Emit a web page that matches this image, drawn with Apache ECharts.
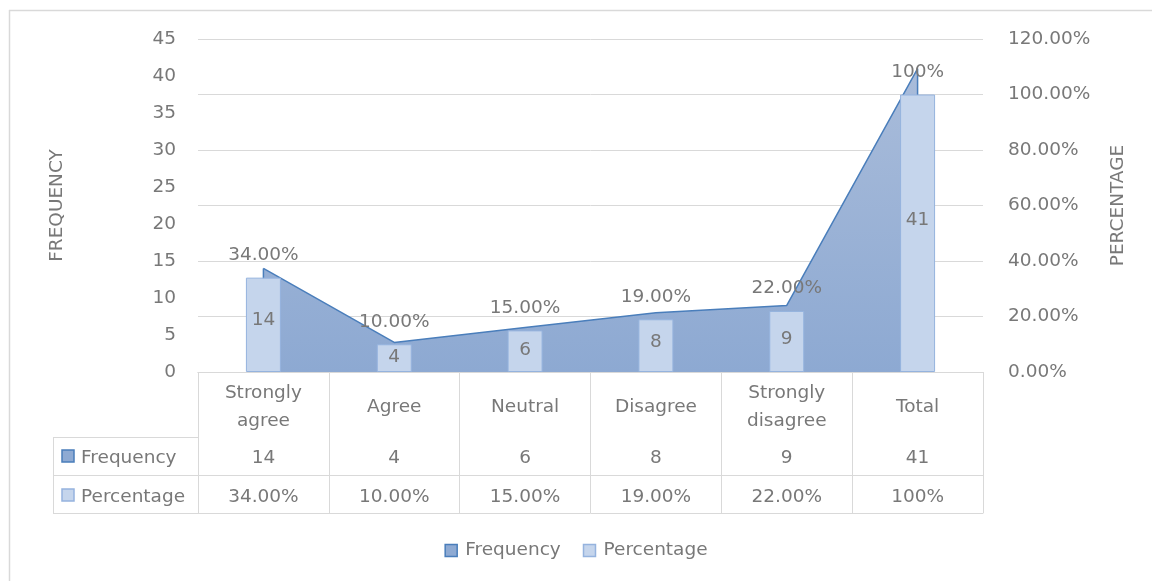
<!DOCTYPE html>
<html>
<head>
<meta charset="utf-8">
<script src="https://cdn.jsdelivr.net/npm/echarts@6/dist/echarts.min.js"></script>
<style>html,body{margin:0;padding:0;background:#fff}#c{width:1152px;height:581px}</style>
</head>
<body>
<div id="c"></div>
<script>
const categories = ['Strongly agree', 'Agree', 'Neutral', 'Disagree', 'Strongly disagree', 'Total'];
const frequency = [14, 4, 6, 8, 9, 41];
const percentage = [34, 10, 15, 19, 22, 100];
const percentageLabels = ['34.00%', '10.00%', '15.00%', '19.00%', '22.00%', '100%'];
const leftTicks = { min: 0, max: 45, interval: 5 };
const rightTicks = { min: 0, max: 120, interval: 20 };

const FS = 18.5;
const TXT = '#787878';
const GRID = '#d9d9d9';
const AREA_LINE = '#4a7ebb';
const AREA_FILL = '#8eaad3';
const BAR_FILL = '#c5d5ec';
const BAR_EDGE = '#95b3de';

const chart = echarts.init(document.getElementById('c'), null, { renderer: 'canvas' });
const txt = { color: TXT, fontFamily: 'DejaVu Sans', fontSize: FS };

const last = categories.length - 1;
function edgeSeries(i) {
  return {
    type: 'line', xAxisIndex: 0, yAxisIndex: 0, symbol: 'none', z: 2, silent: true,
    lineStyle: { color: AREA_LINE, width: 1.5 },
    data: [[categories[i], 0], [categories[i], frequency[i]]]
  };
}

const option = {
  animation: false,
  textStyle: { fontFamily: 'DejaVu Sans' },
  grid: { left: 198, right: 169, top: 39, bottom: 209 },
  legend: {
    bottom: 16, left: 'center', itemWidth: 12, itemHeight: 12, itemGap: 22,
    textStyle: Object.assign({}, txt, { padding: [0, 0, 0, 3] }),
    data: [
      { name: 'Frequency', icon: 'rect', itemStyle: { color: AREA_FILL, borderColor: AREA_LINE, borderWidth: 1.5 } },
      { name: 'Percentage', icon: 'rect', itemStyle: { color: BAR_FILL, borderColor: BAR_EDGE, borderWidth: 1.5 } }
    ]
  },
  xAxis: [
    {
      type: 'category', data: categories, position: 'bottom',
      axisLine: { lineStyle: { color: GRID } },
      axisTick: { show: true, length: 141, lineStyle: { color: GRID } },
      axisLabel: Object.assign({}, txt, {
        margin: 35, verticalAlign: 'middle', lineHeight: 28, interval: 0,
        formatter: v => v.replace(' ', '\n')
      })
    },
    {
      type: 'category', data: categories, position: 'bottom', offset: 65,
      axisLine: { lineStyle: { color: GRID } }, axisTick: { show: false },
      axisLabel: Object.assign({}, txt, { margin: 21, verticalAlign: 'middle', interval: 0, formatter: (v, i) => String(frequency[i]) })
    },
    {
      type: 'category', data: categories, position: 'bottom', offset: 103,
      axisLine: { lineStyle: { color: GRID } }, axisTick: { show: false },
      axisLabel: Object.assign({}, txt, { margin: 22, verticalAlign: 'middle', interval: 0, formatter: (v, i) => percentageLabels[i] })
    },
    {
      type: 'category', data: categories, position: 'bottom', offset: 141,
      axisLine: { lineStyle: { color: GRID } }, axisTick: { show: false }, axisLabel: { show: false }
    }
  ],
  yAxis: [
    {
      type: 'value', min: leftTicks.min, max: leftTicks.max, interval: leftTicks.interval,
      name: 'FREQUENCY', nameLocation: 'middle', nameGap: 131, nameTextStyle: txt,
      axisLine: { show: false }, axisTick: { show: false }, splitLine: { show: false },
      axisLabel: Object.assign({}, txt, { margin: 22 })
    },
    {
      type: 'value', min: rightTicks.min, max: rightTicks.max, interval: rightTicks.interval, position: 'right',
      name: 'PERCENTAGE', nameLocation: 'middle', nameGap: 126, nameTextStyle: txt,
      axisLine: { show: false }, axisTick: { show: false },
      splitLine: { show: true, lineStyle: { color: GRID, width: 1 } },
      axisLabel: Object.assign({}, txt, { margin: 25, formatter: v => v.toFixed(2) + '%' })
    }
  ],
  series: [
    {
      name: 'Frequency', type: 'line', xAxisIndex: 0, yAxisIndex: 0, data: frequency,
      symbol: 'none', z: 2,
      lineStyle: { color: AREA_LINE, width: 1.5 },
      itemStyle: { color: AREA_FILL },
      areaStyle: {
        opacity: 1,
        color: new echarts.graphic.LinearGradient(0, 0, 0, 1, [
          { offset: 0, color: '#a9bcda' },
          { offset: 1, color: '#8da9d2' }
        ])
      }
    },
    edgeSeries(0),
    edgeSeries(last),
    {
      name: 'Percentage', type: 'bar', xAxisIndex: 0, yAxisIndex: 1, data: percentage,
      barWidth: 35, barGap: '-100%', z: 3,
      itemStyle: { color: BAR_FILL, borderColor: BAR_EDGE, borderWidth: 1 },
      label: Object.assign({}, txt, { show: true, position: 'top', distance: 13, formatter: p => percentageLabels[p.dataIndex] })
    },
    {
      name: 'FrequencyLabel', type: 'bar', xAxisIndex: 0, yAxisIndex: 0, data: frequency,
      barWidth: 35, barGap: '-100%', z: 4, silent: true,
      itemStyle: { color: 'rgba(0,0,0,0)' },
      label: Object.assign({}, txt, { show: true, position: 'inside', formatter: p => String(p.value) })
    }
  ],
  graphic: [
    { type: 'line', shape: { x1: 9, y1: 10.5, x2: 1152, y2: 10.5 }, style: { stroke: GRID, lineWidth: 1.5 }, silent: true },
    { type: 'line', shape: { x1: 9.5, y1: 10, x2: 9.5, y2: 581 }, style: { stroke: GRID, lineWidth: 1.5 }, silent: true },
    { type: 'line', shape: { x1: 53, y1: 437.5, x2: 198, y2: 437.5 }, style: { stroke: GRID, lineWidth: 1 }, silent: true },
    { type: 'line', shape: { x1: 53, y1: 475.5, x2: 198, y2: 475.5 }, style: { stroke: GRID, lineWidth: 1 }, silent: true },
    { type: 'line', shape: { x1: 53, y1: 513.5, x2: 198, y2: 513.5 }, style: { stroke: GRID, lineWidth: 1 }, silent: true },
    { type: 'line', shape: { x1: 53.5, y1: 437, x2: 53.5, y2: 514 }, style: { stroke: GRID, lineWidth: 1 }, silent: true },
    { type: 'rect', shape: { x: 62, y: 450, width: 12, height: 12 }, style: { fill: AREA_FILL, stroke: AREA_LINE, lineWidth: 1.5 }, silent: true },
    { type: 'text', x: 81, y: 458, style: { text: 'Frequency', fill: TXT, font: FS + 'px "DejaVu Sans"', verticalAlign: 'middle' }, silent: true },
    { type: 'rect', shape: { x: 62, y: 489, width: 12, height: 12 }, style: { fill: BAR_FILL, stroke: BAR_EDGE, lineWidth: 1.5 }, silent: true },
    { type: 'text', x: 81, y: 497, style: { text: 'Percentage', fill: TXT, font: FS + 'px "DejaVu Sans"', verticalAlign: 'middle' }, silent: true }
  ]
};
chart.setOption(option);
</script>
</body>
</html>
